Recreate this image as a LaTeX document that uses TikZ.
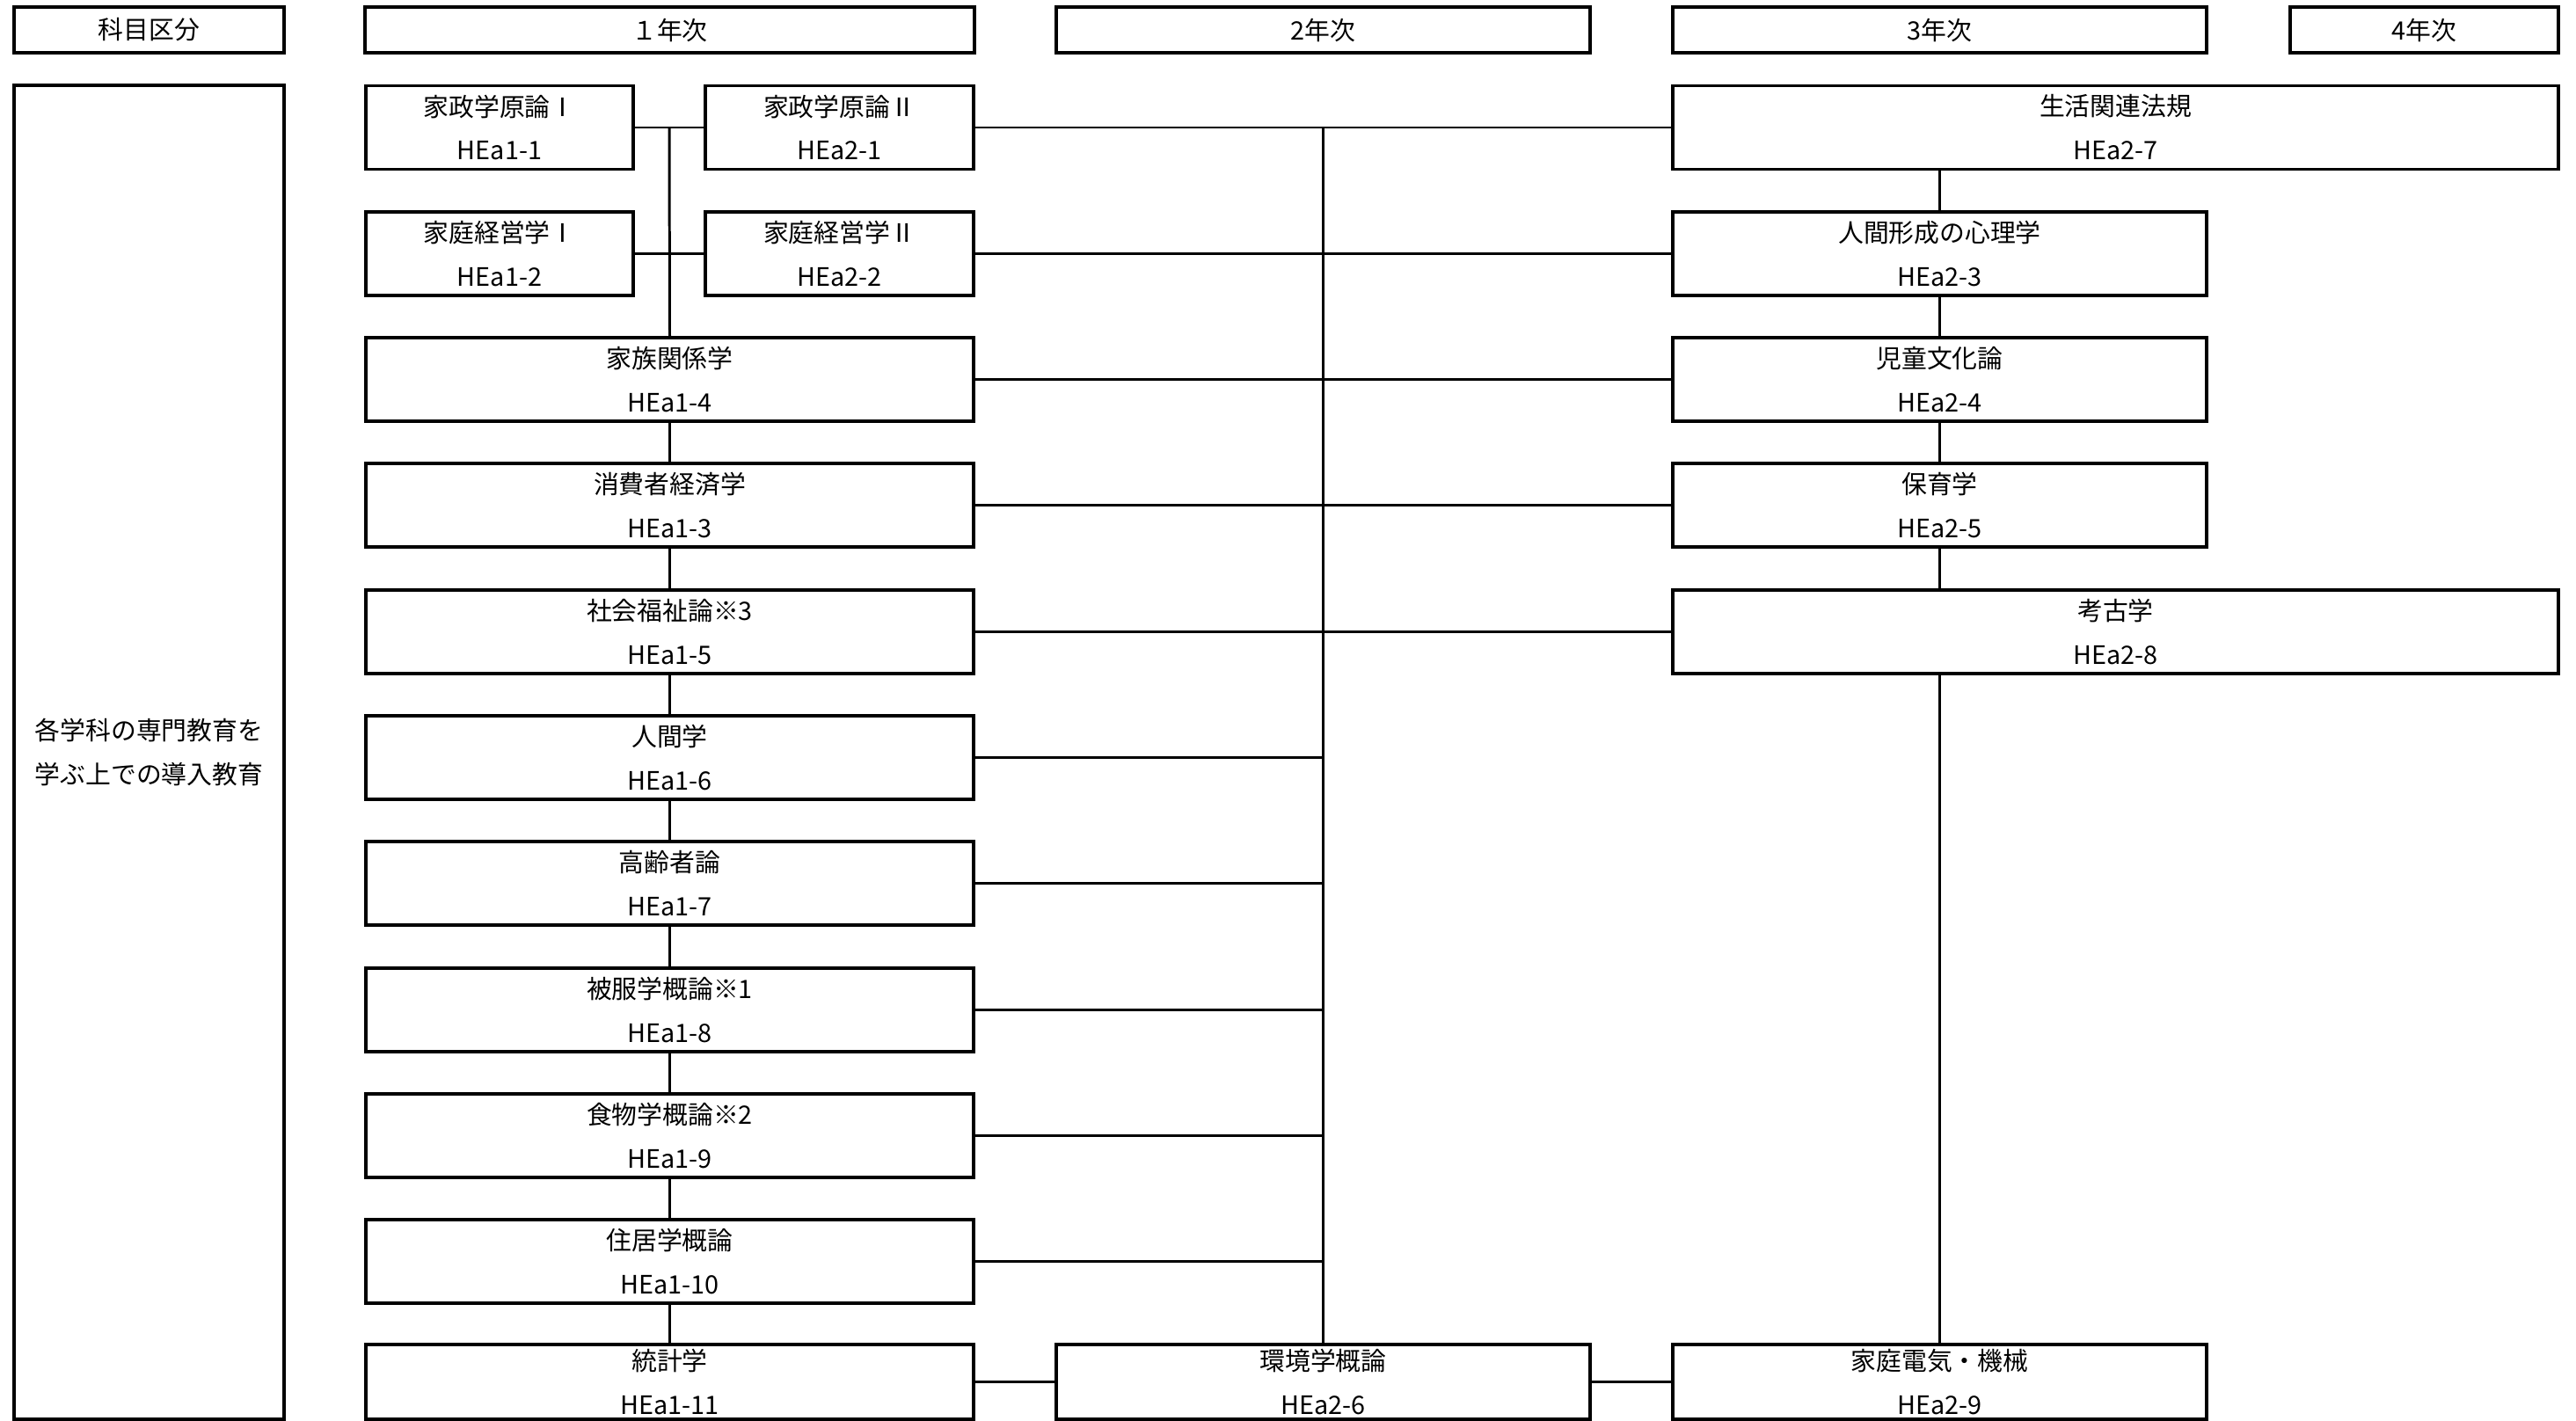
\documentclass[tikz,border=0pt]{standalone}
\usepackage{fontspec}
\setmainfont{Noto Sans CJK JP}
\usetikzlibrary{calc,positioning}
\definecolor{inkblack}{HTML}{000000}
\newcommand{\kf}{\fontsize{8.2}{14.2}\selectfont}

\begin{document}
\begin{tikzpicture}[
  hdr/.style={draw=inkblack, line width=1.1pt, minimum width=#1, minimum height=0.52cm, inner sep=0pt, font=\kf},
  crs/.style={draw=inkblack, fill=white, line width=1.1pt, minimum width=#1, minimum height=0.95cm, inner sep=0pt, align=center, font=\kf},
  crs/.default=6.91cm,
  last/.style={minimum height=0.85cm},
  lnk/.style={inkblack, line width=0.85pt}]

\useasboundingbox (0,0) rectangle (29.29,-16.16);
\def\rp{1.433}    % row pitch
\def\ra{1.45}     % centre of first row

% ================================================================== header row
\node[hdr=3.07cm] (kubun) at (1.695,-0.34) {科目区分};
\node[hdr=6.93cm] (yr1) at (7.615,-0.34) {１年次};
\node[hdr=6.07cm] (yr2) at (15.045,-0.34) {2年次};
\node[hdr=6.07cm] (yr3) at (22.055,-0.34) {3年次};
\node[hdr=3.05cm] (yr4) at (27.565,-0.34) {4年次};

% ================================================================== left column
\node[crs=3.07cm, minimum height=15.17cm] (intro) at (1.695,-8.555)
     {各学科の専門教育を\\学ぶ上での導入教育};

% ================================================================== 1st year
\node[crs=3.04cm] (HEa1-1) at (5.68,-\ra) {家政学原論Ⅰ\\HEa1-1};
\node[crs=3.05cm] (HEa2-1) at (9.545,-\ra) {家政学原論Ⅱ\\HEa2-1};
\node[crs=3.04cm] (HEa1-2) at (5.68,{-(\ra+\rp)}) {家庭経営学Ⅰ\\HEa1-2};
\node[crs=3.05cm] (HEa2-2) at (9.545,{-(\ra+\rp)}) {家庭経営学Ⅱ\\HEa2-2};
\foreach \c/\t/\r in {HEa1-4/家族関係学/3, HEa1-3/消費者経済学/4, HEa1-5/社会福祉論※3/5,
                      HEa1-6/人間学/6, HEa1-7/高齢者論/7, HEa1-8/被服学概論※1/8,
                      HEa1-9/食物学概論※2/9, HEa1-10/住居学概論/10}{
  \node[crs] (\c) at (7.615,{-(\ra+\rp*(\r-1))}) {\t\\\c};
}
\node[crs, last] (HEa1-11) at (7.615,-15.715) {統計学\\HEa1-11};

% ================================================================== 2nd year
\node[crs=6.07cm, last] (HEa2-6) at (15.045,-15.715) {環境学概論\\HEa2-6};

% ================================================================== 3rd year
\node[crs=10.07cm] (HEa2-7) at (24.055,-\ra) {生活関連法規\\HEa2-7};
\node[crs=6.07cm] (HEa2-3) at (22.055,{-(\ra+\rp)}) {人間形成の心理学\\HEa2-3};
\node[crs=6.07cm] (HEa2-4) at (22.055,{-(\ra+2*\rp)}) {児童文化論\\HEa2-4};
\node[crs=6.07cm] (HEa2-5) at (22.055,{-(\ra+3*\rp)}) {保育学\\HEa2-5};
\node[crs=10.07cm] (HEa2-8) at (24.055,{-(\ra+4*\rp)}) {考古学\\HEa2-8};
\node[crs=6.07cm, last] (HEa2-9) at (22.055,-15.715) {家庭電気・機械\\HEa2-9};

% ================================================================== connectors
% spine of the 1st year
\coordinate (j1) at ($(HEa1-1.east)!0.5!(HEa2-1.west)$);
\draw[lnk] (HEa1-1.east) -- (HEa2-1.west);
\draw[lnk] (HEa1-2.east) -- (HEa2-2.west);
\draw[lnk] (j1) -- (HEa1-4.north);
\foreach \a/\b in {HEa1-4/HEa1-3, HEa1-3/HEa1-5, HEa1-5/HEa1-6, HEa1-6/HEa1-7,
                   HEa1-7/HEa1-8, HEa1-8/HEa1-9, HEa1-9/HEa1-10, HEa1-10/HEa1-11}{
  \draw[lnk] (\a.south) -- (\b.north);
}
% spine of the 2nd year
\coordinate (j2) at (HEa2-6.north |- HEa2-1.east);
\draw[lnk] (j2) -- (HEa2-6.north);
% rows across to the 3rd year
\draw[lnk] (HEa2-1.east) -- (HEa2-7.west);
\draw[lnk] (HEa2-2.east) -- (HEa2-3.west);
\draw[lnk] (HEa1-4.east) -- (HEa2-4.west);
\draw[lnk] (HEa1-3.east) -- (HEa2-5.west);
\draw[lnk] (HEa1-5.east) -- (HEa2-8.west);
\foreach \a in {HEa1-6, HEa1-7, HEa1-8, HEa1-9, HEa1-10}{
  \draw[lnk] (\a.east) -- (\a.east -| HEa2-6.north);
}
\draw[lnk] (HEa1-11.east) -- (HEa2-6.west);
\draw[lnk] (HEa2-6.east) -- (HEa2-9.west);
% spine of the 3rd year
\draw[lnk] (HEa2-7.south -| HEa2-3.north) -- (HEa2-3.north);
\draw[lnk] (HEa2-3.south) -- (HEa2-4.north);
\draw[lnk] (HEa2-4.south) -- (HEa2-5.north);
\draw[lnk] (HEa2-5.south) -- (HEa2-5.south |- HEa2-8.north);
\draw[lnk] (HEa2-8.south -| HEa2-9.north) -- (HEa2-9.north);
\end{tikzpicture}
\end{document}
